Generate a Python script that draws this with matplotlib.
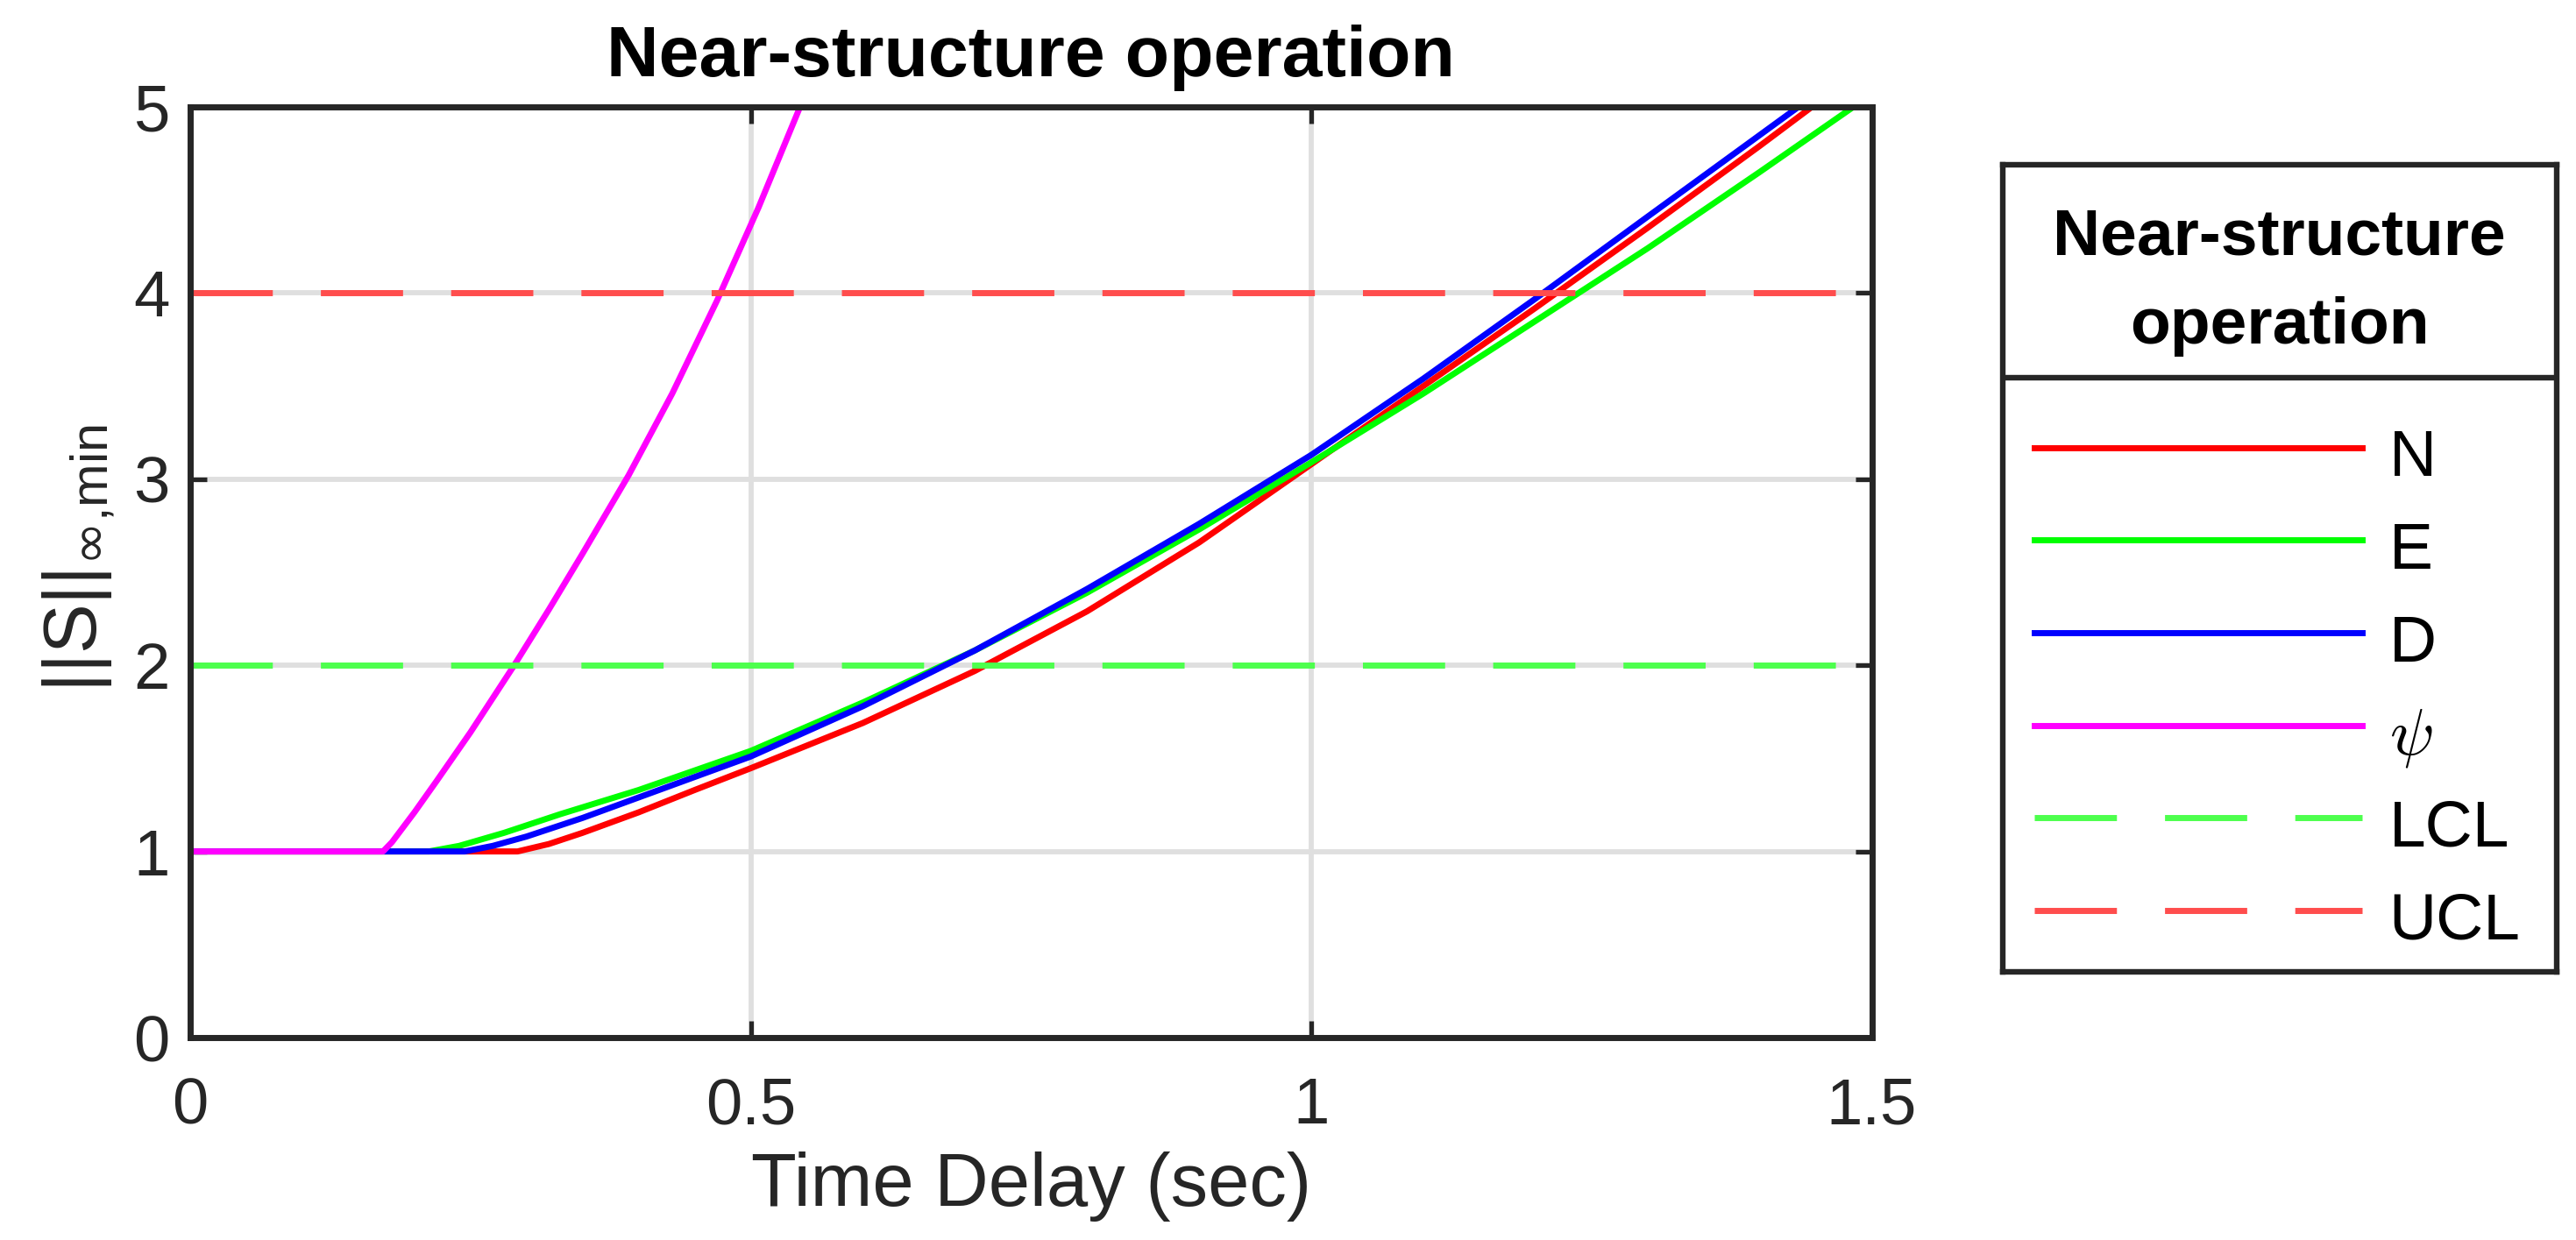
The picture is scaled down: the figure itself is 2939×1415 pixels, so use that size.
import numpy as np
import matplotlib
matplotlib.use('Agg')
import matplotlib.pyplot as plt

plt.rcParams['font.family'] = ['Liberation Sans', 'DejaVu Sans']
plt.rcParams['mathtext.fontset'] = 'custom'
plt.rcParams['mathtext.rm'] = 'Liberation Sans'
plt.rcParams['mathtext.it'] = 'Liberation Sans:italic'
plt.rcParams['mathtext.bf'] = 'Liberation Sans:bold'
plt.rcParams['mathtext.sf'] = 'DejaVu Sans'

# values
x_N = [0, 0.292, 0.32, 0.35, 0.40, 0.45, 0.50, 0.60, 0.70, 0.80, 0.90, 1.00, 1.10, 1.20, 1.30, 1.40, 1.4466]
y_N = [1, 1, 1.04, 1.10, 1.21, 1.33, 1.447, 1.69, 1.97, 2.29, 2.66, 3.08, 3.50, 3.92, 4.35, 4.79, 5.0]

x_E = [0, 0.213, 0.24, 0.28, 0.33, 0.40, 0.50, 0.60, 0.70, 0.80, 0.90, 1.00, 1.10, 1.20, 1.30, 1.40, 1.4836]
y_E = [1, 1, 1.03, 1.10, 1.20, 1.33, 1.54, 1.80, 2.08, 2.39, 2.73, 3.09, 3.46, 3.85, 4.24, 4.65, 5.0]

x_D = [0, 0.245, 0.27, 0.30, 0.35, 0.40, 0.50, 0.60, 0.70, 0.80, 0.90, 1.00, 1.10, 1.20, 1.30, 1.4346]
y_D = [1, 1, 1.03, 1.08, 1.18, 1.29, 1.51, 1.78, 2.08, 2.41, 2.76, 3.13, 3.54, 3.97, 4.41, 5.0]

x_psi = [0, 0.172, 0.18, 0.19, 0.20, 0.22, 0.25, 0.289, 0.32, 0.35, 0.391, 0.43, 0.47, 0.507, 0.544]
y_psi = [1, 1, 1.05, 1.13, 1.21, 1.38, 1.64, 2.0, 2.3, 2.6, 3.02, 3.46, 3.96, 4.46, 5.0]

LCL = 2
UCL = 4
x_lim = [0, 1.5]
y_lim = [0, 5]
x_ticks = [0, 0.5, 1, 1.5]
x_ticklabels = ['0', '0.5', '1', '1.5']
y_ticks = [0, 1, 2, 3, 4, 5]
labels = ['N', 'E', 'D', r'$\psi$', 'LCL', 'UCL']

W, H = 2939, 1415
dpi = 200
fig = plt.figure(figsize=(W / dpi, H / dpi), dpi=dpi)
ax = fig.add_axes([217 / W, 1 - 1184 / H, (2135.5 - 217) / W, (1184 - 122) / H])

lw = 2.5
dash = (13.5, 7.9)
styles = [
    dict(color='#ff0000', lw=lw),
    dict(color='#00ff00', lw=lw),
    dict(color='#0000ff', lw=lw),
    dict(color='#ff00ff', lw=lw),
    dict(color='#4dff4d', lw=lw, dashes=dash),
    dict(color='#ff4d4d', lw=lw, dashes=dash),
]

ax.plot(x_N, y_N, **styles[0])
ax.plot(x_E, y_E, **styles[1])
ax.plot(x_D, y_D, **styles[2])
ax.plot(x_psi, y_psi, **styles[3])
ax.plot(x_lim, [LCL, LCL], **styles[4])
ax.plot(x_lim, [UCL, UCL], **styles[5])

ax.set_xlim(x_lim)
ax.set_ylim(y_lim)
ax.set_xticks(x_ticks)
ax.set_xticklabels(x_ticklabels)
ax.set_yticks(y_ticks)
ax.set_axisbelow(True)
ax.grid(True, color='#dfdfdf', linewidth=2.1)
ax.tick_params(direction='in', length=7, width=1.9, top=True, right=True,
               colors='#262626', labelsize=26.8)
ax.tick_params(axis='x', pad=16)
ax.tick_params(axis='y', pad=8.5)
for s in ax.spines.values():
    s.set_linewidth(2.5)
    s.set_color('#262626')

ax.set_title('Near-structure operation', fontsize=29.7, fontweight='bold',
             y=(1184 - 87.3) / 1062, pad=0)
ax.set_xlabel('Time Delay (sec)', fontsize=30.6, color='#262626')
ax.xaxis.set_label_coords(0.5, (1184 - 1375.7) / 1062)
ax.xaxis.label.set_verticalalignment('baseline')
ax.set_ylabel(r'$\mathrm{||S||}_{\mathsf{\infty}{,}\mathrm{min}}$', fontsize=30.6, color='#262626')
ax.yaxis.set_label_coords((133 - 217) / 1918.5, 0.515)

# legend box drawn by hand (title with a divider line)
lx0, ly0, lx1, ly1 = 2284.5, 188, 2917, 1109
lax = fig.add_axes([lx0 / W, 1 - ly1 / H, (lx1 - lx0) / W, (ly1 - ly0) / H])
lax.set_xlim(0, lx1 - lx0)
lax.set_ylim(ly1 - ly0, 0)
lax.set_xticks([])
lax.set_yticks([])
for s in lax.spines.values():
    s.set_linewidth(2.3)
    s.set_color('#262626')
cx = (lx1 - lx0) / 2
lax.text(cx, 102.7, 'Near-structure', ha='center', va='baseline', fontsize=27, fontweight='bold')
lax.text(cx, 203.7, 'operation', ha='center', va='baseline', fontsize=27, fontweight='bold')
lax.axhline(243, color='#262626', lw=2.3)
for i, lab in enumerate(labels):
    yy = 322.5 + i * 105.7
    lax.plot([36.5, 410.5], [yy, yy], **styles[i])
    kw = dict(math_fontfamily='cm') if lab.startswith('$') else {}
    lax.text(441, yy + 32.7, lab, ha='left', va='baseline', fontsize=27, **kw)

fig.savefig('out.png', dpi=dpi)
